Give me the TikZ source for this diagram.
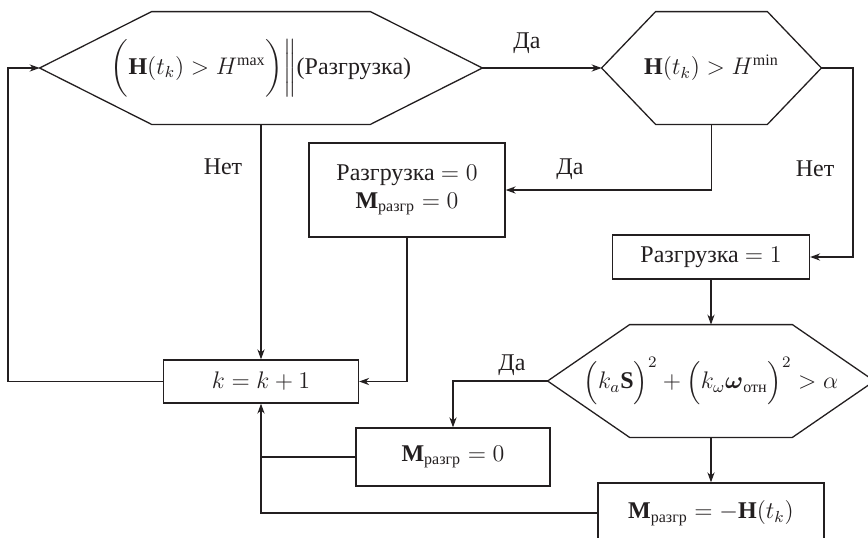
\documentclass[tikz,border=0pt]{standalone}
\usepackage{amsmath,amssymb}
\usepackage{fontspec}
\setmainfont{Liberation Serif}
\usepackage{xcolor}
\usepackage{tikz}
\usetikzlibrary{arrows.meta,positioning,calc}
\definecolor{ink}{HTML}{231F20}
\tikzset{
  block/.style={
    draw=ink,fill=white,line width=.65pt,
    inner sep=2pt,align=center,font=\large,text=ink
  },
  hexnode/.style={
    draw=none,inner sep=0pt,minimum height=56pt,
    align=center,font=\large,text=ink
  },
  answer/.style={font=\large,text=ink,inner sep=0pt},
  wire/.style={draw=ink,line width=.65pt},
  arrow/.style={-{Stealth[length=5pt,width=3.6pt]},draw=ink,line width=.65pt}
}
\newcommand{\hexoutline}[2]{%
  \draw[wire] (#1.west) -- ($(#1.north west)+(#2,0)$) -- ($(#1.north east)+(-#2,0)$)
    -- (#1.east) -- ($(#1.south east)+(-#2,0)$) -- ($(#1.south west)+(#2,0)$) -- cycle;}

\begin{document}
\begin{tikzpicture}[x=0.5pt,y=-0.5pt]
\useasboundingbox (0,0) rectangle (868,537);
\clip (0,0) rectangle (868,537);
% decisions
\node[hexnode,minimum width=221pt] (test) at (261,68)
{$\biggl(\mathbf{H}(t_k)>H^{\max}\biggr)\bigg\|$(Разгрузка)};
\node[hexnode,minimum width=109.5pt] (hmin) at (711.5,68)
{$\mathbf{H}(t_k)>H^{\min}$};
\node[hexnode,minimum width=163pt] (rate) at (711,381)
{$\Bigl(k_a\mathbf{S}\Bigr)^2+\Bigl(k_\omega\boldsymbol{\omega}_{\text{отн}}\Bigr)^2>\alpha$};
\hexoutline{test}{112}
\hexoutline{hmin}{54}
\hexoutline{rate}{82}
% actions
\node[block,minimum width=98pt,minimum height=47pt] (reset) at (407,190)
{Разгрузка $=0$\\$\mathbf{M}_{\text{разгр}}=0$};
\node[block,minimum width=98.5pt,minimum height=22pt] (unload) at (711,257)
{Разгрузка $=1$};
\node[block,minimum width=97.5pt,minimum height=21.5pt] (kbox) at (261,381.5)
{$k=k+1$};
\node[block,minimum width=97pt,minimum height=29pt] (zero) at (453,457)
{$\mathbf{M}_{\text{разгр}}=0$};
\node[block,minimum width=113pt,minimum height=30pt] (dump) at (711,513)
{$\mathbf{M}_{\text{разгр}}=-\mathbf{H}(t_k)$};
% answers
\node[answer] (no1) at (223,167) {Нет};
\node[answer] (yes1) at (527,43) {Да};
\node[answer] (yes2) at (570,169) {Да};
\node[answer] (no2) at (815,169) {Нет};
\node[answer] (yes3) at (512,365) {Да};
\coordinate (loop) at (8,381);
\coordinate (side) at (853,68);
% connectors
\draw[arrow] (kbox.west) -- (kbox.west -| loop) -- (loop |- test.west) -- (test.west);
\draw[arrow] (test.south) -- (test.south |- kbox.north);
\draw[arrow] (test.east) -- (hmin.west);
\draw[arrow] (hmin.south) |- (reset.east);
\draw[arrow] (hmin.east) -- (side) |- (unload.east);
\draw[arrow] (reset.south) |- (kbox.east);
\draw[arrow] (unload.south) -- (rate.north);
\draw[arrow] (rate.west) -| (zero.north);
\draw[arrow] (rate.south) -- (dump.north);
\draw[arrow] (dump.west) -| (kbox.south);
\draw[wire] (zero.west) -- (zero.west -| kbox.south);
\end{tikzpicture}
\end{document}
